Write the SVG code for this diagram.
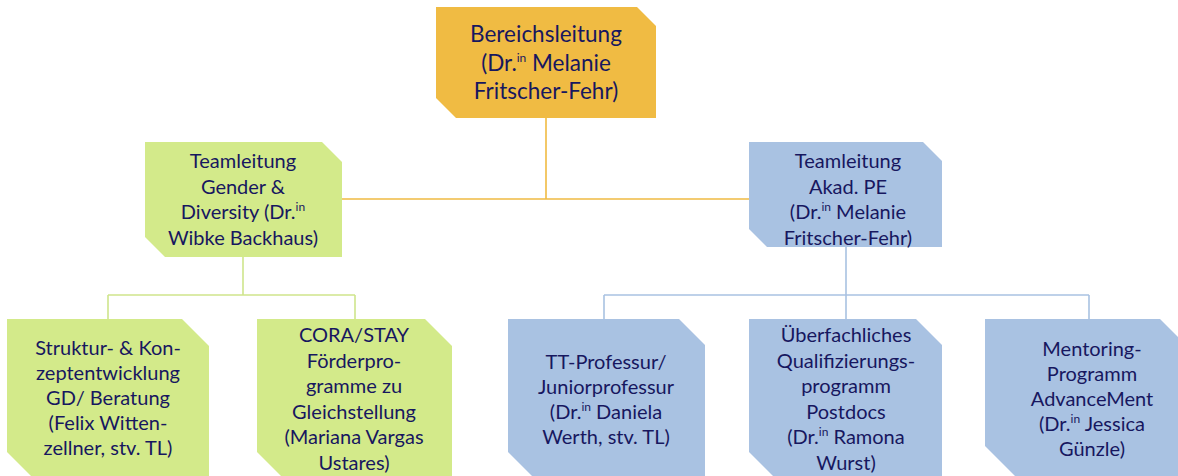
<svg xmlns="http://www.w3.org/2000/svg" width="1178" height="476" viewBox="0 0 1178 476">
<style>
text{font-family:Lato,"Liberation Sans",sans-serif;fill:#17175f;text-anchor:middle;font-size:20px}
.big{font-size:22.5px}
.sup{font-size:12px}
.gold{fill:#f0bb43}
.green{fill:#d3ea8a}
.blue{fill:#a9c2e2}
.c{fill:none;stroke-width:1.6}
.co{stroke:#f0bb43}
.cg{stroke:#cfe58c}
.cb{stroke:#a9c2e2}
</style>
<rect width="1178" height="476" fill="#ffffff"/>
<g id="connectors">
<path class="c co" d="M546 118V199M342 199H749"/>
<path class="c cg" d="M243 257V295M108 295H355M108 295V319M355 295V319"/>
<path class="c cb" d="M846 247V295M604 295H1089M604 295V319M846 295V319M1089 295V319"/>
</g>
<g id="bereichsleitung">
<polygon class="gold" points="436,7 637,7 656,26 656,118 456,118 436,98"/>
<text class="big" x="546" y="42">Bereichsleitung</text>
<text class="big" x="546" y="71">(Dr.<tspan class="sup" dy="-9">in</tspan><tspan dy="9"> Melanie</tspan></text>
<text class="big" x="546" y="99">Fritscher-Fehr)</text>
</g>
<g id="tl-gender">
<polygon class="green" points="145,142 322,142 342,162 342,257 165,257 145,237"/>
<text x="243" y="168">Teamleitung</text>
<text x="243" y="193.5">Gender &amp;</text>
<text x="243" y="219">Diversity (Dr.<tspan class="sup" dy="-8">in</tspan></text>
<text x="243" y="244.5">Wibke Backhaus)</text>
</g>
<g id="tl-pe">
<polygon class="blue" points="749,142 923,142 942,161 942,247 767,247 749,229"/>
<text x="848" y="168">Teamleitung</text>
<text x="848" y="193.5">Akad. PE</text>
<text x="848" y="219">(Dr.<tspan class="sup" dy="-8">in</tspan><tspan dy="8"> Melanie</tspan></text>
<text x="848" y="244.5">Fritscher-Fehr)</text>
</g>
<g id="struktur">
<polygon class="green" points="7,319 182,319 209,346 209,490 45,490 7,452"/>
<text x="108" y="355">Struktur- &amp; Kon-</text>
<text x="108" y="380">zeptentwicklung</text>
<text x="108" y="405">GD/ Beratung</text>
<text x="108" y="430">(Felix Witten-</text>
<text x="108" y="455">zellner, stv. TL)</text>
</g>
<g id="cora">
<polygon class="green" points="257,319 425,319 452,346 452,490 295,490 257,452"/>
<text x="354" y="342">CORA/STAY</text>
<text x="354" y="367.5">Förderpro-</text>
<text x="354" y="393">gramme zu</text>
<text x="354" y="418.5">Gleichstellung</text>
<text x="354" y="444">(Mariana Vargas</text>
<text x="354" y="469.5">Ustares)</text>
</g>
<g id="tt">
<polygon class="blue" points="508,319 679,319 705,345 705,490 546,490 508,452"/>
<text x="606" y="369">TT-Professur/</text>
<text x="606" y="394">Juniorprofessur</text>
<text x="606" y="419">(Dr.<tspan class="sup" dy="-8">in</tspan><tspan dy="8"> Daniela</tspan></text>
<text x="606" y="444">Werth, stv. TL)</text>
</g>
<g id="postdocs">
<polygon class="blue" points="749,319 916,319 942,345 942,490 787,490 749,452"/>
<text x="846" y="342">Überfachliches</text>
<text x="846" y="367.5">Qualifizierungs-</text>
<text x="846" y="393">programm</text>
<text x="846" y="418.5">Postdocs</text>
<text x="846" y="444">(Dr.<tspan class="sup" dy="-8">in</tspan><tspan dy="8"> Ramona</tspan></text>
<text x="846" y="469.5">Wurst)</text>
</g>
<g id="mentoring">
<polygon class="blue" points="985,319 1160,319 1188,347 1188,490 1029,490 985,446"/>
<text x="1092" y="356">Mentoring-</text>
<text x="1092" y="381">Programm</text>
<text x="1092" y="406">AdvanceMent</text>
<text x="1092" y="431">(Dr.<tspan class="sup" dy="-8">in</tspan><tspan dy="8"> Jessica</tspan></text>
<text x="1092" y="456">Günzle)</text>
</g>
</svg>
